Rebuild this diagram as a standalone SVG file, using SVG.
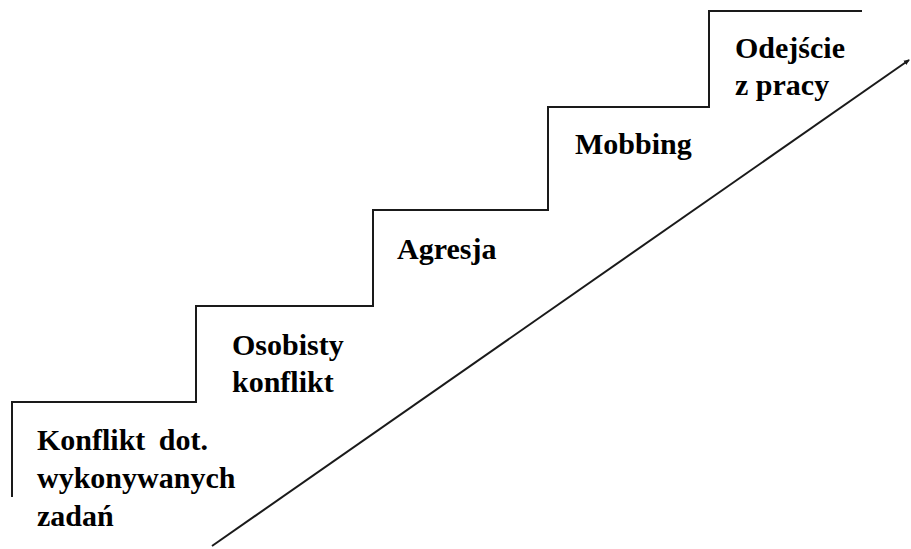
<svg xmlns="http://www.w3.org/2000/svg" width="911" height="549" viewBox="0 0 911 549">
<style>
.st{fill:none;stroke:#1a1a1a;stroke-width:2}
.t{font-weight:700;font-size:30px;fill:#000}
</style>
<defs>
<marker id="ah" markerWidth="6" markerHeight="6" refX="5" refY="3" orient="auto" markerUnits="userSpaceOnUse">
<path d="M0,0.5 L6,3 L0,5.5 Z" fill="#1a1a1a"/>
</marker>
</defs>
<rect width="911" height="549" fill="#fff"/>
<g id="connectors">
<path class="st" d="M12,497 V402 H196 V306 H373 V210 H548 V107 H709 V11 H862"/>
<line class="st" x1="212" y1="546" x2="909" y2="60" marker-end="url(#ah)"/>
</g>
<g font-family="Liberation Serif, serif">
<g id="step1"><text class="t" x="37" y="450" word-spacing="6">Konflikt dot.</text><text class="t" x="37" y="488">wykonywanych</text><text class="t" x="37" y="526">zadań</text></g>
<g id="step2"><text class="t" x="232" y="355">Osobisty</text><text class="t" x="232" y="392">konflikt</text></g>
<g id="step3"><text class="t" x="397" y="259">Agresja</text></g>
<g id="step4"><text class="t" x="575" y="154">Mobbing</text></g>
<g id="step5"><text class="t" x="735" y="58">Odejście</text><text class="t" x="735" y="95">z pracy</text></g>
</g>
</svg>
